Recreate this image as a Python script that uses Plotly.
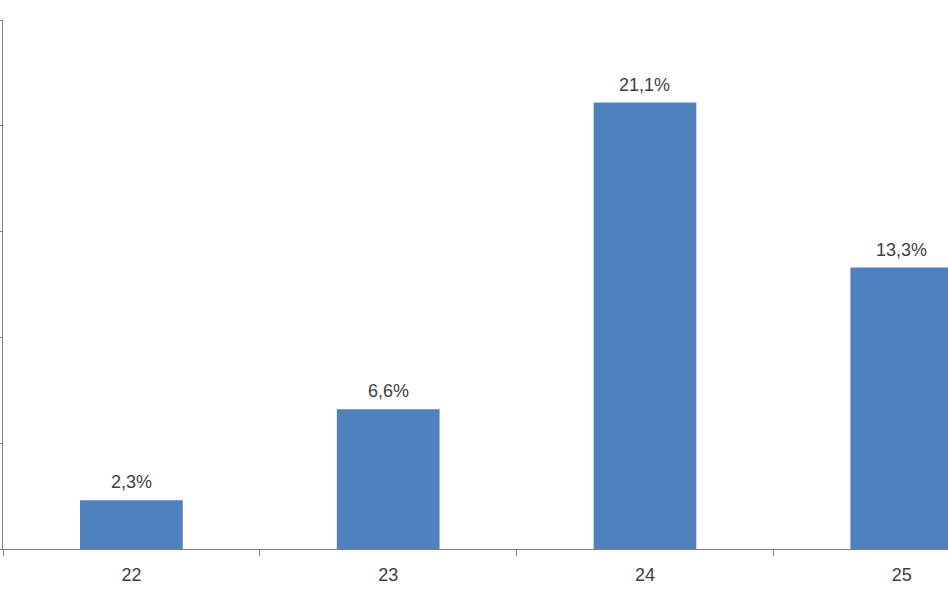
import plotly.graph_objects as go

categories = ["22", "23", "24", "25"]
values = [2.3, 6.6, 21.1, 13.3]
labels = ["2,3%", "6,6%", "21,1%", "13,3%"]

fig = go.Figure(
    go.Bar(
        x=categories,
        y=values,
        marker=dict(color="#4F81BD", line=dict(width=0)),
        width=0.4,
        cliponaxis=True,
    )
)

for i, (v, t) in enumerate(zip(values, labels)):
    fig.add_annotation(
        x=i, y=v, text=t, showarrow=False,
        yanchor="bottom", yshift=6,
        font=dict(size=18, color="#404040", family="Liberation Sans"),
    )

fig.update_layout(
    width=948,
    height=593,
    margin=dict(l=3, r=0, t=20, b=44, autoexpand=False),
    plot_bgcolor="white",
    paper_bgcolor="white",
    showlegend=False,
    font=dict(family="Liberation Sans", size=18, color="#404040"),
)

fig.update_xaxes(
    type="category",
    range=[-0.5, 3.18],
    tickson="boundaries",
    ticks="outside",
    ticklen=6,
    tickcolor="#808080",
    showline=True,
    linecolor="#808080",
    linewidth=1,
    showgrid=False,
    tickfont=dict(size=18, color="#404040"),
    ticklabelstandoff=9,
    automargin=False,
)

fig.update_yaxes(
    range=[0, 25],
    dtick=5,
    ticks="outside",
    ticklen=3,
    tickcolor="#808080",
    showline=True,
    linecolor="#808080",
    linewidth=1,
    showgrid=False,
    zeroline=False,
    showticklabels=False,
    automargin=False,
)

fig.write_html(
    "out.html",
    config={"displayModeBar": False},
    post_script="document.body.style.margin='0';",
)
